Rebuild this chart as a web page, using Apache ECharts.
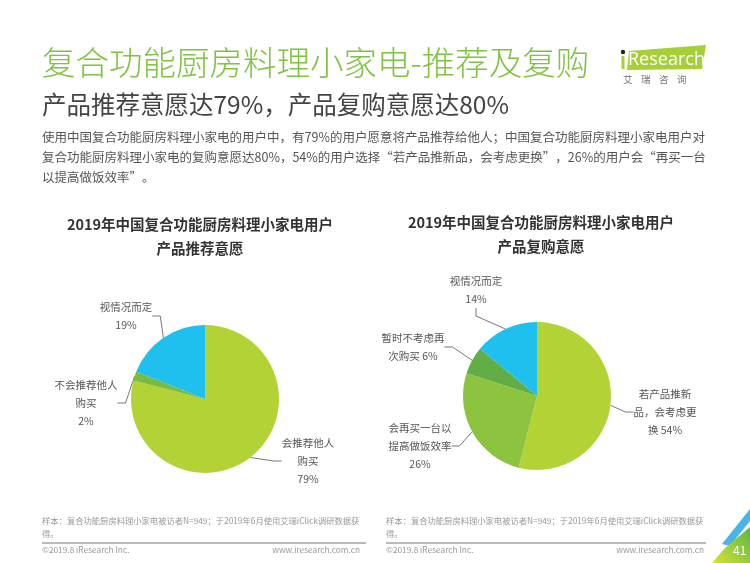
<!DOCTYPE html>
<html>
<head>
<meta charset="utf-8">
<script src="https://cdn.jsdelivr.net/npm/echarts@6/dist/echarts.min.js"></script>
<style>
html,body{margin:0;padding:0;background:#fff;}
#chart{width:750px;height:563px;}
</style>
</head>
<body>
<div id="chart"></div>
<script>
// ---- data ----
const leftNames = ['会推荐他人\n购买', '不会推荐他人\n购买', '视情况而定'];
const leftValues = [79, 2, 19];
const leftSeps = ['\n', '\n', '\n'];
const rightNames = ['若产品推新\n品，会考虑更\n换', '会再买一台以\n提高做饭效率', '暂时不考虑再\n次购买', '视情况而定'];
const rightValues = [54, 26, 6, 14];
const rightSeps = [' ', '\n', ' ', '\n'];

const mainTitle = '复合功能厨房料理小家电-推荐及复购';
const subTitle = '产品推荐意愿达79%，产品复购意愿达80%';
const paragraph = [
  '使用中国复合功能厨房料理小家电的用户中，有79%的用户愿意将产品推荐给他人；中国复合功能厨房料理小家电用户对',
  '复合功能厨房料理小家电的复购意愿达80%，54%的用户选择“若产品推新品，会考虑更换”，26%的用户会“再买一台',
  '以提高做饭效率”。'
];
const leftChartTitle = ['2019年中国复合功能厨房料理小家电用户', '产品推荐意愿'];
const rightChartTitle = ['2019年中国复合功能厨房料理小家电用户', '产品复购意愿'];
const footnote = ['样本：复合功能厨房料理小家电被访者N=949；于2019年6月使用艾瑞iClick调研数据获', '得。'];

// ---- style ----
const FONT = '"Noto Sans CJK SC", "Noto Sans", sans-serif';
const leftColors = ['#b2d235', '#7aba3c', '#1fbfee'];
const rightColors = ['#b2d235', '#8cc43f', '#62ad45', '#1fbfee'];
const leftLabelPos = [[308, 461], [86, 403], [126, 316]];
const rightLabelPos = [[665, 412], [420, 446], [413, 347], [476, 290]];

function pieSeries(names, values, seps, colors, center, labelPos) {
  return {
    type: 'pie',
    center: center,
    radius: 74,
    startAngle: 90,
    clockwise: true,
    silent: true,
    animation: false,
    data: names.map((n, i) => ({
      name: n, value: values[i],
      itemStyle: { color: colors[i] }
    })),
    label: {
      show: true,
      position: 'outside',
      formatter: p => p.name + seps[p.dataIndex] + p.value + '%',
      fontFamily: FONT,
      fontSize: 10.5,
      lineHeight: 18,
      color: '#555',
      align: 'center'
    },
    labelLine: {
      show: true,
      length: 10,
      length2: 8,
      lineStyle: { color: '#555', width: 0.8 }
    },
    labelLayout: p => ({
      x: labelPos[p.dataIndex][0],
      y: labelPos[p.dataIndex][1],
      align: 'center',
      verticalAlign: 'middle'
    })
  };
}

const graphics = [];
function txt(x, y, text, style) {
  graphics.push({
    type: 'text', x: x, y: y, silent: true,
    style: Object.assign({ text: text, fontFamily: FONT, verticalAlign: 'middle' }, style)
  });
}
txt(42, 62, mainTitle, { fontSize: 33.5, fill: '#80c342', fontWeight: 300 });
txt(42, 105, subTitle, { fontSize: 24.5, fill: '#444' });
paragraph.forEach((l, i) => txt(42, 137 + i * 20, l, { fontSize: 12.5, fill: '#555' }));
leftChartTitle.forEach((l, i) => txt(200, 224 + i * 24, l, { fontSize: 14.5, fontWeight: 'bold', fill: '#333', align: 'center' }));
rightChartTitle.forEach((l, i) => txt(541, 222 + i * 24, l, { fontSize: 14.5, fontWeight: 'bold', fill: '#333', align: 'center' }));
footnote.forEach((l, i) => {
  txt(42, 521 + i * 13, l, { fontSize: 8.3, fill: '#999' });
  txt(386, 521 + i * 13, l, { fontSize: 8.3, fill: '#999' });
});
// separators
graphics.push({ type: 'line', silent: true, shape: { x1: 42, y1: 543, x2: 366, y2: 543 }, style: { stroke: '#777', lineWidth: 1 } });
graphics.push({ type: 'line', silent: true, shape: { x1: 386, y1: 543, x2: 706, y2: 543 }, style: { stroke: '#777', lineWidth: 1 } });
txt(42, 550, '©2019.8 iResearch Inc.', { fontSize: 8.3, fill: '#999' });
txt(360, 550, 'www.iresearch.com.cn', { fontSize: 8.3, fill: '#999', align: 'right' });
txt(386, 550, '©2019.8 iResearch Inc.', { fontSize: 8.3, fill: '#999' });
txt(704, 550, 'www.iresearch.com.cn', { fontSize: 8.3, fill: '#999', align: 'right' });
// corner decoration
graphics.push({ type: 'polygon', silent: true, shape: { points: [[722, 544], [750, 509], [750, 521], [730, 546]] }, style: { fill: '#4ab3e8' } });
graphics.push({
  type: 'polygon', silent: true,
  shape: { points: [[712, 563], [750, 563], [750, 527], [724, 549]] },
  style: { fill: { type: 'linear', x: 0, y: 1, x2: 1, y2: 0, colorStops: [{ offset: 0, color: '#d6e33a' }, { offset: 1, color: '#5cb543' }] } }
});
txt(733, 550, '41', { fontSize: 12, fill: '#fff' });
// logo
graphics.push({ type: 'polygon', silent: true, shape: { points: [[629, 51], [706, 45], [702, 69], [627, 70]] }, style: { fill: '#a6cf38' } });
graphics.push({ type: 'circle', silent: true, shape: { cx: 623, cy: 52, r: 2.2 }, style: { fill: '#222' } });
graphics.push({ type: 'rect', silent: true, shape: { x: 621.5, y: 56, width: 3, height: 13 }, style: { fill: '#a6cf38' } });
txt(628, 60, 'Research', { fontSize: 18, fill: '#fff', fontFamily: '"Open Sans", sans-serif' });
txt(623, 79, '艾    瑞    咨    询', { fontSize: 9.5, fill: '#777' });

const chart = echarts.init(document.getElementById('chart'));
chart.setOption({
  backgroundColor: '#fff',
  animation: false,
  graphic: graphics,
  series: [
    pieSeries(leftNames, leftValues, leftSeps, leftColors, [205, 399], leftLabelPos),
    pieSeries(rightNames, rightValues, rightSeps, rightColors, [537, 396], rightLabelPos)
  ]
});
</script>
</body>
</html>
